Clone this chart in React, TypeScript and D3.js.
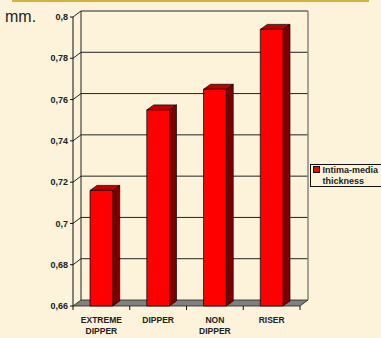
import React from 'react';
import * as d3 from 'd3';

const categories = [['EXTREME', 'DIPPER'], ['DIPPER'], ['NON', 'DIPPER'], ['RISER']];
const values = [0.716, 0.755, 0.765, 0.794];
const yTicks = [0.66, 0.68, 0.7, 0.72, 0.74, 0.76, 0.78, 0.8];
const seriesName = ['Intima-media', 'thickness'];
const unitLabel = 'mm.';

const W = 381;
const H = 338;
const bg = '#fcf3da';
const font = 'Arial, "Liberation Sans", sans-serif';

// depth of the 3D box and of each bar
const depth = { dx: 8, dy: -6 };
const barDepth = { dx: 7, dy: -5 };

const fmt = d3.formatLocale({ decimal: ',', thousands: '.', grouping: [3], currency: ['', ''] }).format('~g');

const App = () => {
  const keys = categories.map(c => c.join(' '));

  const x = d3.scaleBand<string>().domain(keys).range([73, 300]).paddingInner(0.6).paddingOuter(0.3);
  const xEdges = d3.scaleBand<string>().domain(keys).range([73, 300]).padding(0);
  const y = d3.scaleLinear().domain([0.66, 0.8]).range([306, 17]);

  const [x0, x1] = x.range();
  const y0 = y(0.66);
  const yTop = y(0.8);

  return (
    <svg width={W} height={H} style={{ position: 'absolute', left: 0, top: 0, background: bg }} fontFamily={font}>
      <rect width={W} height={H} fill={bg} />
      <line x1={12} x2={369} y1={1} y2={1} stroke="#d6b243" strokeWidth={2} />

      <text x={5} y={22} fontSize={16} fill="#222">{unitLabel}</text>

      {/* floor */}
      <polygon
        points={`${x0},${y0} ${x1},${y0} ${x1 + depth.dx},${y0 + depth.dy} ${x0 + depth.dx},${y0 + depth.dy}`}
        fill="#808080"
        stroke="#222"
        strokeWidth={0.8}
      />

      {/* gridlines: side wall diagonal + back wall */}
      {yTicks.slice(1).map(t => (
        <polyline
          key={t}
          points={`${x0},${y(t)} ${x0 + depth.dx},${y(t) + depth.dy} ${x1 + depth.dx},${y(t) + depth.dy}`}
          fill="none"
          stroke="#222"
          strokeWidth={1}
        />
      ))}
      <line x1={x0 + depth.dx} x2={x0 + depth.dx} y1={yTop + depth.dy} y2={y0 + depth.dy} stroke="#222" />
      <line x1={x1 + depth.dx} x2={x1 + depth.dx} y1={yTop + depth.dy} y2={y0 + depth.dy} stroke="#8a8680" strokeWidth={1.5} />

      {/* front y axis */}
      <line x1={x0} x2={x0} y1={yTop} y2={y0} stroke="#111" strokeWidth={1} />
      {yTicks.map(t => (
        <g key={t}>
          <line x1={x0 - 3} x2={x0} y1={y(t)} y2={y(t)} stroke="#111" />
          <text x={68} y={y(t)} dy="0.35em" textAnchor="end" fontSize={9} fontWeight="bold" fill="#222">
            {fmt(t)}
          </text>
        </g>
      ))}

      {/* x ticks */}
      {keys.map(k => (
        <line key={k} x1={xEdges(k)!} x2={xEdges(k)!} y1={y0} y2={y0 + 4} stroke="#111" />
      ))}
      <line x1={x1} x2={x1} y1={y0} y2={y0 + 4} stroke="#111" />

      {/* bars */}
      {keys.map((k, i) => {
        const bx = x(k)!;
        const bw = x.bandwidth();
        const by = y(values[i]);
        const { dx, dy } = barDepth;
        return (
          <g key={k} stroke="#000" strokeWidth={0.7} strokeLinejoin="round">
            <polygon points={`${bx + bw},${by} ${bx + bw + dx},${by + dy} ${bx + bw + dx},${y0 + dy} ${bx + bw},${y0}`} fill="#7a0000" />
            <polygon points={`${bx},${by} ${bx + dx},${by + dy} ${bx + bw + dx},${by + dy} ${bx + bw},${by}`} fill="#c00000" />
            <rect x={bx} y={by} width={bw} height={y0 - by} fill="#ff0000" />
          </g>
        );
      })}

      {/* category labels */}
      {categories.map((lines, i) => (
        <text key={keys[i]} textAnchor="middle" fontSize={8.5} fontWeight="bold" fill="#222">
          {lines.map((l, j) => (
            <tspan key={j} x={xEdges(keys[i])! + xEdges.bandwidth() / 2} y={323 + j * 11}>
              {l}
            </tspan>
          ))}
        </text>
      ))}

      {/* legend */}
      <rect x={310.5} y={164.5} width={80} height={22} fill={bg} stroke="#111" />
      <rect x={313.5} y={166.5} width={6} height={6} fill="#ff0000" stroke="#111" />
      {seriesName.map((s, j) => (
        <text key={s} x={322.5} y={173 + j * 10.5} fontSize={9} fontWeight="bold" fill="#222">
          {s}
        </text>
      ))}
    </svg>
  );
};

export default App;
